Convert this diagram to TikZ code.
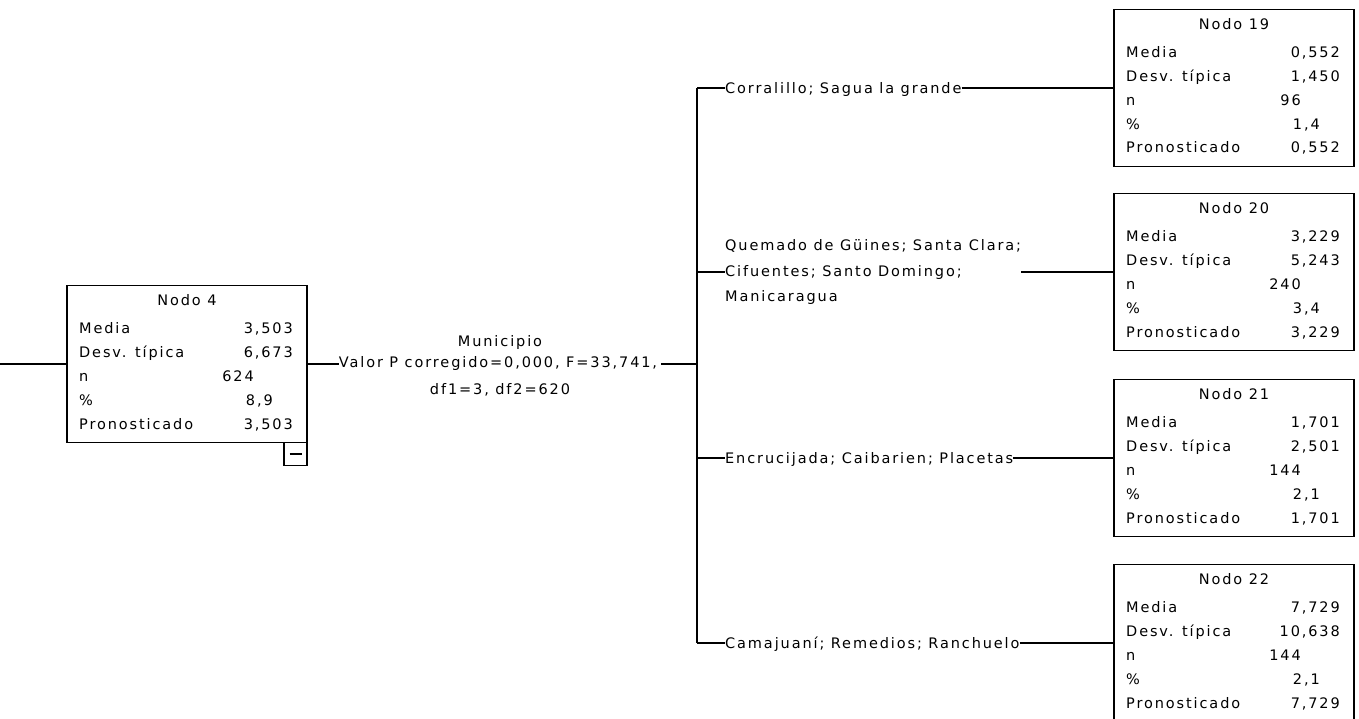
\documentclass[tikz,border=0pt]{standalone}
\usepackage{fontspec}
\setmainfont{DejaVu Sans}[LetterSpace=13]
\usetikzlibrary{calc}

\tikzset{
  stat/.style={draw, line width=1.8pt, minimum width=240pt, minimum height=157pt,
               inner sep=0pt, outer sep=0pt, anchor=north west},
  txt/.style={inner sep=0pt, font=\fontsize{14.5}{17}\selectfont},
  lbl/.style={txt, anchor=base west},
  num/.style={txt, anchor=base east},
  ttl/.style={txt, anchor=base},
  blab/.style={txt, text height=10.5pt, text depth=0pt, anchor=west},
  wire/.style={line width=1.8pt},
}

% statistics box: name, left, top, title, mean, std. dev., n, percent, predicted
\newcommand\statbox[9]{%
  \node[stat] (#1) at (#2,#3) {};
  \node[ttl] (#1-t)  at ($(#1.north)+(0,20)$) {#4};
  \node[lbl] (#1-l1) at ($(#1.north west)+(12,48)$) {Media};
  \node[lbl] (#1-l2) at ($(#1.north west)+(12,72)$) {Desv. típica};
  \node[lbl] (#1-l3) at ($(#1.north west)+(12,96)$) {n};
  \node[lbl] (#1-l4) at ($(#1.north west)+(12,120)$) {\%};
  \node[lbl] (#1-l5) at ($(#1.north west)+(12,143.5)$) {Pronosticado};
  \node[num] (#1-v1) at ($(#1.north east)+(-14,48)$) {#5};
  \node[num] (#1-v2) at ($(#1.north east)+(-14,72)$) {#6};
  \node[num] (#1-v3) at ($(#1.north east)+(-53,96)$) {#7};
  \node[num] (#1-v4) at ($(#1.north east)+(-34,120)$) {#8};
  \node[num] (#1-v5) at ($(#1.north east)+(-14,143.5)$) {#9};
}

\begin{document}
\begin{tikzpicture}[x=1pt, y=-1pt]
  \fill[white] (0,0) rectangle (1359,719);
  \useasboundingbox (0,0) rectangle (1359,719);

  % parent node
  \statbox{n4}{67}{285.5}{Nodo 4}{3,503}{6,673}{624}{8,9}{3,503}
  \node[draw, line width=1.8pt, minimum size=23pt, inner sep=0pt, outer sep=0pt,
        anchor=north east] (n4m) at (n4.south east) {};
  \draw[wire] ($(n4m.center)+(-6,0)$) -- ($(n4m.center)+(6,0)$);

  % child nodes
  \statbox{n19}{1114}{9.5}{Nodo 19}{0,552}{1,450}{96}{1,4}{0,552}
  \statbox{n20}{1114}{193.5}{Nodo 20}{3,229}{5,243}{240}{3,4}{3,229}
  \statbox{n21}{1114}{379.5}{Nodo 21}{1,701}{2,501}{144}{2,1}{1,701}
  \statbox{n22}{1114}{564.5}{Nodo 22}{7,729}{10,638}{144}{2,1}{7,729}

  % split description
  \node[ttl] (mun) at (500,346) {Municipio};
  \node[ttl] (pval) at (498,367) {Valor P corregido=0,000, F=33,741,};
  \node[ttl] (dfs) at (500,394) {df1=3, df2=620};

  % branch labels
  \node[blab] (b1) at (725,88) {Corralillo; Sagua la grande};
  \node[txt, anchor=west, align=left, font=\fontsize{14.5}{25.5}\selectfont] (b2) at (725,272)
    {Quemado de Güines; Santa Clara;\\Cifuentes; Santo Domingo;\\Manicaragua};
  \node[blab] (b3) at (725,458) {Encrucijada; Caibarien; Placetas};
  \node[blab] (b4) at (725,643) {Camajuaní; Remedios; Ranchuelo};

  % connectors
  \coordinate (in) at (0,364);
  \coordinate (tm) at (697,364);
  \coordinate (t1) at (697,88);
  \coordinate (t2) at (697,272);
  \coordinate (t3) at (697,458);
  \coordinate (t4) at (697,643);

  \draw[wire] (in) -- (in -| n4.west);
  \draw[wire] (in -| n4.east) -- (in -| pval.west);
  \draw[wire] ($(tm -| pval.east)+(4,0)$) -- (tm);
  \draw[wire] (t1) -- (t4);
  \draw[wire] (t1) -- (b1.west);
  \draw[wire] (b1.east) -- (b1.east -| n19.west);
  \draw[wire] (t2) -- (b2.west);
  \draw[wire] (b2.east) -- (b2.east -| n20.west);
  \draw[wire] (t3) -- (b3.west);
  \draw[wire] (b3.east) -- (b3.east -| n21.west);
  \draw[wire] (t4) -- (b4.west);
  \draw[wire] (b4.east) -- (b4.east -| n22.west);
\end{tikzpicture}
\end{document}
